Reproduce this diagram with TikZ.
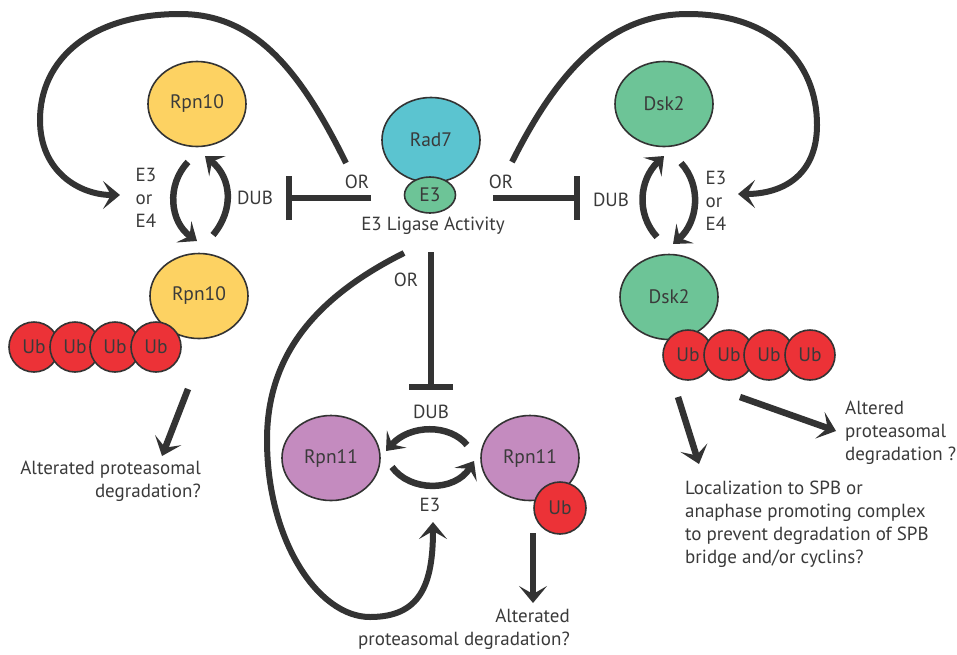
\documentclass[tikz,border=0pt]{standalone}
\usepackage{fontspec}
\setmainfont{PT Sans}
\usetikzlibrary{arrows.meta,shapes.geometric}
\definecolor{ink}{HTML}{333333}
\definecolor{txt}{HTML}{3A3A3A}
\definecolor{yel}{HTML}{FDD262}
\definecolor{cya}{HTML}{5BC4D0}
\definecolor{grn}{HTML}{6DC497}
\definecolor{ubr}{HTML}{EC3237}
\definecolor{pur}{HTML}{C48BBF}
\tikzset{
  prot/.style={ellipse, draw=ink, line width=1.6pt, minimum width=98pt, minimum height=85pt, inner sep=0pt, font=\fontsize{19.5}{22}\selectfont, text=txt},
  ub/.style={circle, draw=ink, line width=1.6pt, fill=ubr, minimum size=50pt, inner sep=0pt, font=\fontsize{19.5}{22}\selectfont, text=txt},
  lbl/.style={font=\fontsize{19}{23}\selectfont, text=txt, inner sep=0pt},
  bigcurve/.style={draw=ink, line width=6pt, -{Stealth[length=17pt, width=28pt, inset=8pt]}},
  cyc/.style={draw=ink, line width=6.5pt, -{Stealth[length=16pt, width=26pt, inset=7pt]}},
  straw/.style={draw=ink, line width=6.5pt, -{Stealth[length=17pt, width=28pt, inset=8pt]}},
  inhib/.style={draw=ink, line width=6pt, -{Bar[width=44pt]}},
}
\begin{document}
\begin{tikzpicture}[x=1pt,y=-1pt]
\useasboundingbox (0,0) rectangle (957,654);
% ---- proteins
\node[prot, fill=yel] (rpnTop) at (197,104) {Rpn10};
\node[prot, fill=yel] (rpnBot) at (199,296) {Rpn10};
\node[ub] (ubL1) at (34,347) {Ub};
\node[ub] (ubL2) at (75,347) {Ub};
\node[ub] (ubL3) at (115,347) {Ub};
\node[ub] (ubL4) at (156,347) {Ub};

\node[prot, fill=cya] (rad7) at (431,140) {Rad7};
\node[ellipse, draw=ink, line width=1.6pt, fill=grn, minimum width=51pt, minimum height=36pt, inner sep=0pt, font=\fontsize{19.5}{22}\selectfont, text=txt] (e3) at (430,195) {E3};
\node[lbl] (lig) at (433,226) {E3 Ligase Activity};

\node[prot, fill=grn] (dskTop) at (664,104) {Dsk2};
\node[prot, fill=grn] (dskBot) at (669,297) {Dsk2};
\node[ub] (ubR1) at (688,355) {Ub};
\node[ub] (ubR2) at (729,355) {Ub};
\node[ub] (ubR3) at (769,355) {Ub};
\node[ub] (ubR4) at (810,355) {Ub};

\node[prot, fill=pur] (r11L) at (331,458) {Rpn11};
\node[prot, fill=pur] (r11R) at (530,458) {Rpn11};
\node[ub, minimum size=52pt] (ubM) at (560,508) {Ub};

% ---- labels
\node[lbl, align=left] (e3e4L) at (146,198) {E3\\or\\E4};
\node[lbl] (dubL) at (255,198) {DUB};
\node[lbl] (orL) at (357,182) {OR};
\node[lbl, align=left] (e3e4R) at (716,201) {E3\\or\\E4};
\node[lbl] (dubR) at (611,200) {DUB};
\node[lbl] (orR) at (501,182) {OR};
\node[lbl] (orM) at (406,280) {OR};
\node[lbl] (dubM) at (431,412) {DUB};
\node[lbl] (e3M) at (430,505) {E3};
\node[lbl, align=right, anchor=north east] (altL) at (201,461) {Alterated proteasomal\\degradation?};
\node[lbl, align=right, anchor=north east] (altM) at (570,609) {Alterated\\proteasomal degradation?};
\node[lbl, align=left, anchor=north west] (altR) at (845,401) {Altered\\proteasomal\\degradation ?};
\node[lbl, align=left, anchor=north west] (loc) at (685,481) {Localization to SPB or\\anaphase promoting complex\\to prevent degradation of SPB\\bridge and/or cyclins?};

% ---- coordinates
\coordinate (lcS) at (346,163);
\coordinate (lcE) at (120,195);
\coordinate (rcS) at (512,162);
\coordinate (rcE) at (738,194);
\coordinate (mcS) at (404,253);
\coordinate (mcE) at (433,522);
\coordinate (inhLs) at (371,198);
\coordinate (inhLe) at (286,198);
\coordinate (inhRs) at (493,198);
\coordinate (inhRe) at (580,198);
\coordinate (inhMs) at (431,252);
\coordinate (inhMe) at (431,390);
\coordinate (c1a) at (188,162); \coordinate (c1b) at (197,241);
\coordinate (c2a) at (213,235); \coordinate (c2b) at (205,156);
\coordinate (c3a) at (657,237); \coordinate (c3b) at (664,156);
\coordinate (c4a) at (681,163); \coordinate (c4b) at (673,244);
\coordinate (c5a) at (467,445); \coordinate (c5b) at (386,451);
\coordinate (c6a) at (392,467); \coordinate (c6b) at (474,461);
\coordinate (a1a) at (188,389); \coordinate (a1b) at (162,456);
\coordinate (a2a) at (533,533); \coordinate (a2b) at (533,603);
\coordinate (a3a) at (678,397); \coordinate (a3b) at (699,464);
\coordinate (a4a) at (740,397); \coordinate (a4b) at (836,431);

% ---- connectors
\draw[bigcurve] (lcS) .. controls (300,70) and (255,14) .. (180,14) .. controls (90,14) and (40,60) .. (40,120) .. controls (40,172) and (80,195) .. (lcE);
\draw[bigcurve] (rcS) .. controls (558,70) and (610,14) .. (688,14) .. controls (772,14) and (817,62) .. (817,125) .. controls (817,176) and (782,194) .. (rcE);
\draw[bigcurve] (mcS) .. controls (310,300) and (267,360) .. (267,440) .. controls (267,540) and (318,617) .. (370,617) .. controls (420,617) and (433,585) .. (mcE);

\draw[inhib] (inhLs) -- (inhLe);
\draw[inhib] (inhRs) -- (inhRe);
\draw[inhib] (inhMs) -- (inhMe);

\draw[cyc] (c1a) .. controls (166,185) and (170,222) .. (c1b);
\draw[cyc] (c2a) .. controls (234,210) and (232,178) .. (c2b);
\draw[cyc] (c3a) .. controls (636,214) and (639,180) .. (c3b);
\draw[cyc] (c4a) .. controls (702,186) and (698,222) .. (c4b);
\draw[cyc] (c5a) .. controls (450,424) and (410,424) .. (c5b);
\draw[cyc] (c6a) .. controls (410,492) and (455,492) .. (c6b);

\draw[straw] (a1a) -- (a1b);
\draw[straw] (a2a) -- (a2b);
\draw[straw] (a3a) -- (a3b);
\draw[straw] (a4a) -- (a4b);
\end{tikzpicture}
\end{document}
